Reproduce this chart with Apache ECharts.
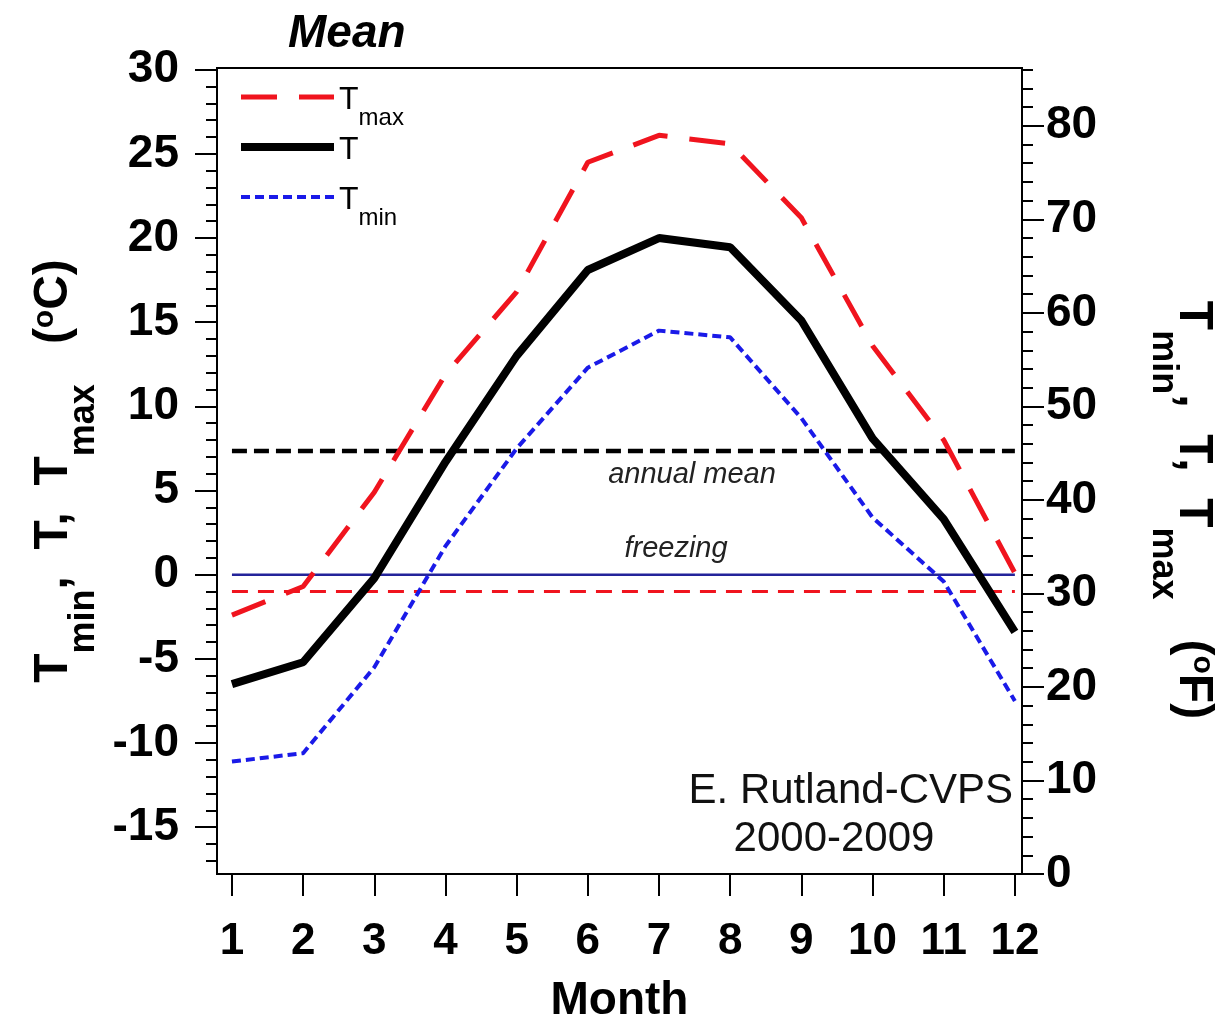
<!DOCTYPE html>
<html><head><meta charset="utf-8">
<script src="https://cdn.jsdelivr.net/npm/echarts@6/dist/echarts.min.js"></script>
<style>html,body{margin:0;padding:0;background:#fff}#c{width:1217px;height:1020px}</style>
</head><body><div id="c"></div><script>
const months = [1,2,3,4,5,6,7,8,9,10,11,12];
const tMean = [-6.5,-5.2,-0.2,6.7,13.0,18.1,20.0,19.45,15.1,8.1,3.3,-3.4];
const tMax = [-2.4,-0.7,4.9,11.9,16.8,24.5,26.1,25.6,21.2,13.6,8.0,0.1];
const tMin = [-11.1,-10.6,-5.5,1.7,7.5,12.3,14.5,14.1,9.3,3.4,-0.4,-7.5];
const annualMean = 7.35;
const freezing = 0;
const tmaxRef = -1.0;
const celsiusTicks = [-15,-10,-5,0,5,10,15,20,25,30];
const fahrenheitTicks = [0,10,20,30,40,50,60,70,80];
const seriesNames = ['Tmax','T','Tmin'];

const FONT = 'Liberation Sans, Arial, Helvetica, sans-serif';
const cMin = (0 - 32) / 1.8, cMax = 30.1;
const fMin = 0, fMax = cMax * 1.8 + 32;
const cMinor = []; for (let v = -17; v <= 30; v++) cMinor.push(v);
const fMinor = []; for (let v = 0; v <= 86; v += 2) fMinor.push(v);

const pair = v => [[months[0], v], [months[months.length - 1], v]];
const zipM = arr => months.map((m, i) => [m, arr[i]]);

const base = {fontWeight: 'bold', fontFamily: FONT, color: '#000', verticalAlign: 'top'};
const nameRich = {
  t: Object.assign({fontSize: 48, lineHeight: 50}, base),
  tf: Object.assign({fontSize: 48, lineHeight: 50, padding: [0, 0, 0, 78]}, base),
  s: Object.assign({fontSize: 36, lineHeight: 38, padding: [36, 0, 0, 0]}, base),
  sup: Object.assign({fontSize: 30, lineHeight: 32}, base)
};

const chart = echarts.init(document.getElementById('c'), null, {renderer: 'canvas'});
chart.setOption({
  backgroundColor: '#fff',
  animation: false,
  title: {text: 'Mean', left: 283, top: 6, textStyle: {fontSize: 46, fontWeight: 'bold', fontStyle: 'italic', fontFamily: FONT, color: '#000'}},
  legend: {
    data: seriesNames, orient: 'vertical', left: 237, top: 80, padding: 0,
    itemWidth: 93, itemHeight: 14, itemGap: 0,
    itemStyle: {opacity: 0},
    lineStyle: {width: 'inherit'},
    formatter: n => n === 'T' ? '{t|T}{s| }' : '{t|T}{s|' + n.slice(1) + '}',
    textStyle: {rich: {
      t: {fontSize: 32, fontFamily: FONT, color: '#000', verticalAlign: 'top', lineHeight: 34, padding: [4, 0, 0, 0]},
      s: {fontSize: 24, fontFamily: FONT, color: '#000', verticalAlign: 'top', lineHeight: 26, padding: [26, 0, 0, 0]}
    }}
  },
  grid: {left: 217, right: 195, top: 68, bottom: 146, show: true, borderColor: '#000', borderWidth: 2, backgroundColor: 'transparent', outerBoundsMode: 'none', containLabel: false},
  xAxis: {
    type: 'value', min: 0.79, max: 12.1,
    name: 'Month', nameLocation: 'middle', nameGap: 104,
    nameTextStyle: {fontSize: 46, fontWeight: 'bold', fontFamily: FONT, color: '#000'},
    axisLine: {show: true, onZero: false, lineStyle: {color: '#000', width: 2}},
    axisTick: {show: true, inside: false, length: 22, lineStyle: {color: '#000', width: 2}, customValues: months},
    axisLabel: {customValues: months, margin: 46, fontSize: 44, fontWeight: 'bold', fontFamily: FONT, color: '#000'},
    splitLine: {show: false}
  },
  yAxis: [
    {
      type: 'value', position: 'left', min: cMin, max: cMax,
      name: '{t|T}{s|min}{t|,  T,  T}{s|max}{t|   (}{sup|o}{t|C)}',
      nameLocation: 'middle', nameGap: 121, nameRotate: 90,
      nameTextStyle: {rich: nameRich},
      axisLine: {show: true, onZero: false, lineStyle: {color: '#000', width: 2}},
      axisTick: {show: true, length: 22, lineStyle: {color: '#000', width: 2}, customValues: celsiusTicks},
      axisLabel: {customValues: celsiusTicks, margin: 38, fontSize: 46, fontWeight: 'bold', fontFamily: FONT, color: '#000'},
      splitLine: {show: false}
    },
    {
      type: 'value', position: 'right', min: fMin, max: fMax,
      name: '{tf|T}{s|min}{t|,  T,  T}{s|max}{t|   (}{sup|o}{t|F)}',
      nameLocation: 'middle', nameGap: 145, nameRotate: -90,
      nameTextStyle: {rich: nameRich},
      axisLine: {show: true, onZero: false, lineStyle: {color: '#000', width: 2}},
      axisTick: {show: true, length: 22, lineStyle: {color: '#000', width: 2}, customValues: fahrenheitTicks},
      axisLabel: {customValues: fahrenheitTicks, margin: 24, fontSize: 46, fontWeight: 'bold', fontFamily: FONT, color: '#000'},
      splitLine: {show: false}
    },
    {
      type: 'value', position: 'left', min: cMin, max: cMax,
      axisLine: {show: false}, axisLabel: {show: false}, splitLine: {show: false},
      axisTick: {show: true, length: 11, lineStyle: {color: '#000', width: 2}, customValues: cMinor}
    },
    {
      type: 'value', position: 'right', min: fMin, max: fMax,
      axisLine: {show: false}, axisLabel: {show: false}, splitLine: {show: false},
      axisTick: {show: true, length: 11, lineStyle: {color: '#000', width: 2}, customValues: fMinor}
    }
  ],
  graphic: [
    {type: 'text', x: 692, y: 475, style: {text: 'annual mean', fontSize: 29, fontStyle: 'italic', fontFamily: FONT, fill: '#222', textAlign: 'center', textVerticalAlign: 'middle'}},
    {type: 'text', x: 676, y: 549, style: {text: 'freezing', fontSize: 29, fontStyle: 'italic', fontFamily: FONT, fill: '#222', textAlign: 'center', textVerticalAlign: 'middle'}},
    {type: 'text', x: 1013, y: 791, style: {text: 'E. Rutland-CVPS', fontSize: 42, fontFamily: FONT, fill: '#111', textAlign: 'right', textVerticalAlign: 'middle'}},
    {type: 'text', x: 834, y: 839, style: {text: '2000-2009', fontSize: 42, fontFamily: FONT, fill: '#111', textAlign: 'center', textVerticalAlign: 'middle'}}
  ],
  series: [
    {name: 'freezing', type: 'line', data: pair(freezing), symbol: 'none', silent: true, z: 1,
     lineStyle: {color: '#23239a', width: 2.5, type: 'solid'}},
    {name: 'tmaxRef', type: 'line', data: pair(tmaxRef), symbol: 'none', silent: true, z: 1,
     lineStyle: {color: '#f0141e', width: 3, type: [16, 10]}},
    {name: 'annual', type: 'line', data: pair(annualMean), symbol: 'none', silent: true, z: 1,
     lineStyle: {color: '#000', width: 4.5, type: [15, 7]}},
    {name: 'Tmin', type: 'line', data: zipM(tMin), symbol: 'none', z: 3,
     lineStyle: {color: '#1a1ae8', width: 4, type: [9, 5]}, itemStyle: {color: '#1a1ae8'}},
    {name: 'Tmax', type: 'line', data: zipM(tMax), symbol: 'none', z: 3,
     lineStyle: {color: '#f0141e', width: 5, type: [36, 22]}, itemStyle: {color: '#f0141e'}},
    {name: 'T', type: 'line', data: zipM(tMean), symbol: 'none', z: 4,
     lineStyle: {color: '#000', width: 8, type: 'solid'}, itemStyle: {color: '#000'}}
  ]
});
</script></body></html>
